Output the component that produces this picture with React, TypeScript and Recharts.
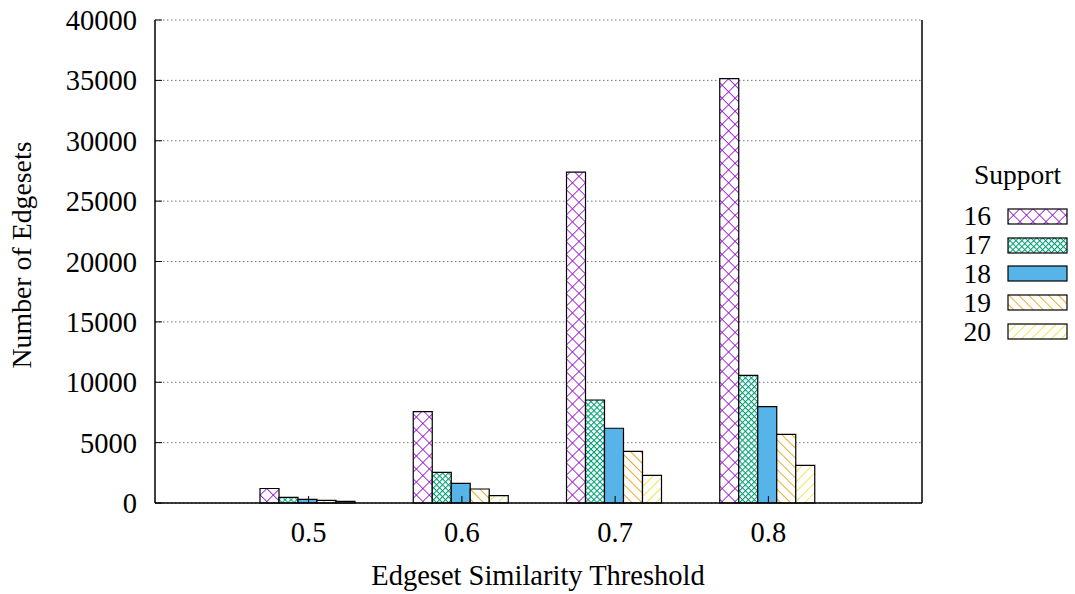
import React from 'react';
import {
  BarChart,
  Bar,
  XAxis,
  YAxis,
  CartesianGrid,
  Legend,
} from 'recharts';

// thresholds on the x axis
const thresholds = ['0.5', '0.6', '0.7', '0.8'];

// number of edgesets per support value
const support16 = [1200, 7560, 27400, 35140];
const support17 = [470, 2540, 8530, 10570];
const support18 = [300, 1630, 6190, 7980];
const support19 = [220, 1160, 4280, 5690];
const support20 = [140, 610, 2290, 3120];

const yTicks = [0, 5000, 10000, 15000, 20000, 25000, 30000, 35000, 40000];

const seriesKeys = ['s16', 's17', 's18', 's19', 's20'];
const seriesNames = ['16', '17', '18', '19', '20'];
const seriesFills = [
  'url(#pat16)',
  'url(#pat17)',
  '#56b4e9',
  'url(#pat19)',
  'url(#pat20)',
];

const chartData = thresholds.map((t, i) => ({
  t,
  s16: support16[i],
  s17: support17[i],
  s18: support18[i],
  s19: support19[i],
  s20: support20[i],
}));

const FONT = '"Liberation Serif", "Times New Roman", serif';
const FS = 28.5;

function PatternDefs() {
  return (
    <defs>
      <pattern id="pat16" width={9.2} height={9.2} patternUnits="userSpaceOnUse" patternTransform="rotate(45)">
        <rect width={9.2} height={9.2} fill="#fff" />
        <line x1={0} y1={0} x2={9.2} y2={0} stroke="#9400d3" strokeWidth={1.6} />
        <line x1={0} y1={0} x2={0} y2={9.2} stroke="#9400d3" strokeWidth={1.6} />
      </pattern>
      <pattern id="pat17" width={4.2} height={4.2} patternUnits="userSpaceOnUse" patternTransform="rotate(45)">
        <rect width={4.2} height={4.2} fill="#fff" />
        <line x1={0} y1={0} x2={4.2} y2={0} stroke="#009e73" strokeWidth={2.1} />
        <line x1={0} y1={0} x2={0} y2={4.2} stroke="#009e73" strokeWidth={2.1} />
      </pattern>
      <pattern id="pat19" width={7} height={7} patternUnits="userSpaceOnUse" patternTransform="rotate(-45)">
        <rect width={7} height={7} fill="#fff" />
        <line x1={0} y1={0} x2={0} y2={7} stroke="#e69f00" strokeWidth={1.7} />
      </pattern>
      <pattern id="pat20" width={7} height={7} patternUnits="userSpaceOnUse" patternTransform="rotate(45)">
        <rect width={7} height={7} fill="#fff" />
        <line x1={0} y1={0} x2={0} y2={7} stroke="#f0e442" strokeWidth={1.8} />
      </pattern>
    </defs>
  );
}

function SupportLegend() {
  return (
    <div style={{ fontFamily: FONT, fontSize: FS - 1, color: '#000' }}>
      <div style={{ marginLeft: 15, lineHeight: '30px', marginBottom: 12 }}>Support</div>
      {seriesNames.map((name, i) => (
        <div key={name} style={{ display: 'flex', alignItems: 'center', height: 28.8 }}>
          <span style={{ width: 32, textAlign: 'right', lineHeight: '28px' }}>{name}</span>
          <svg width={62} height={17} style={{ marginLeft: 16 }}>
            <rect x={1} y={1} width={59} height={15} fill={seriesFills[i]} stroke="#000" strokeWidth={1.2} />
          </svg>
        </div>
      ))}
    </div>
  );
}

export default function App() {
  return (
    <div style={{ position: 'absolute', left: 0, top: 0, width: 1075, height: 594, background: '#fff' }}>
      <BarChart
        width={1075}
        height={594}
        data={chartData}
        margin={{ top: 20, right: 138, bottom: 51, left: 95 }}
        barCategoryGap={28}
        barGap={0}
      >
        <PatternDefs />
        <CartesianGrid
          vertical={false}
          stroke="#777"
          strokeDasharray="1.5 2.5"
          yAxisId="left"
        />
        <XAxis
          dataKey="t"
          xAxisId="bottom"
          orientation="bottom"
          height={40}
          padding={{ left: 77, right: 77 }}
          axisLine={{ stroke: '#000', strokeWidth: 1.5 }}
          tickLine={{ stroke: '#000' }}
          tickSize={-7}
          tickMargin={26}
          tick={{ fill: '#000', fontFamily: FONT, fontSize: FS }}
        />
        <XAxis
          dataKey="t"
          xAxisId="top"
          orientation="top"
          height={0}
          padding={{ left: 77, right: 77 }}
          axisLine={{ stroke: '#000', strokeWidth: 1.5 }}
          tickLine={{ stroke: '#000' }}
          tickSize={-7}
          tick={false}
        />
        <YAxis
          yAxisId="left"
          width={60}
          domain={[0, 40000]}
          ticks={yTicks}
          interval={0}
          axisLine={{ stroke: '#000', strokeWidth: 1.5 }}
          tickLine={{ stroke: '#000' }}
          tickSize={-7}
          tickMargin={25}
          tick={{ fill: '#000', fontFamily: FONT, fontSize: FS }}
        />
        <YAxis
          yAxisId="right"
          orientation="right"
          width={15}
          domain={[0, 40000]}
          ticks={yTicks}
          interval={0}
          axisLine={{ stroke: '#000', strokeWidth: 1.5 }}
          tickLine={{ stroke: '#000' }}
          tickSize={-7}
          tick={false}
        />
        <Legend
          layout="vertical"
          verticalAlign="middle"
          align="center"
          content={<SupportLegend />}
          wrapperStyle={{ position: 'absolute', left: 959, top: 160, width: 115 }}
        />
        {seriesKeys.map((k, i) => (
          <Bar
            key={k}
            dataKey={k}
            name={seriesNames[i]}
            xAxisId="bottom"
            yAxisId="left"
            fill={seriesFills[i]}
            stroke="#000"
            strokeWidth={1.2}
            isAnimationActive={false}
          />
        ))}
        <text
          x={538}
          y={585}
          textAnchor="middle"
          fontFamily={FONT}
          fontSize={FS}
          fill="#000"
        >
          Edgeset Similarity Threshold
        </text>
        <text
          x={31}
          y={255}
          textAnchor="middle"
          fontFamily={FONT}
          fontSize={27.8}
          fill="#000"
          transform="rotate(-90, 31, 255)"
        >
          Number of Edgesets
        </text>
      </BarChart>
    </div>
  );
}
